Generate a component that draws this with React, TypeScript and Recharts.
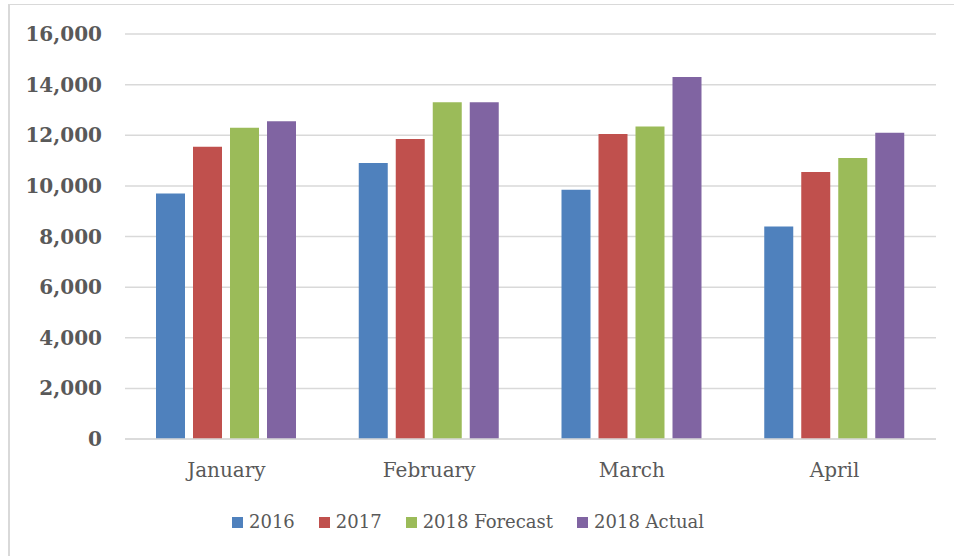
import { BarChart, Bar, XAxis, YAxis, CartesianGrid, Legend } from "recharts";

const months = ["January", "February", "March", "April"];
const y2016 = [9700, 10900, 9850, 8400];
const y2017 = [11550, 11850, 12050, 10550];
const y2018Forecast = [12300, 13300, 12350, 11100];
const y2018Actual = [12550, 13300, 14300, 12100];
const yTicks = [0, 2000, 4000, 6000, 8000, 10000, 12000, 14000, 16000];

const series = [
  { key: "y2016", name: "2016", color: "#4F81BD" },
  { key: "y2017", name: "2017", color: "#C0504D" },
  { key: "f2018", name: "2018 Forecast", color: "#9BBB59" },
  { key: "a2018", name: "2018 Actual", color: "#8064A2" },
];

const data = months.map((month, i) => ({
  month,
  y2016: y2016[i],
  y2017: y2017[i],
  f2018: y2018Forecast[i],
  a2018: y2018Actual[i],
}));

const serif = "'DejaVu Serif', serif";

function LegendRow() {
  return (
    <div
      style={{
        display: "flex",
        justifyContent: "center",
        alignItems: "center",
        paddingTop: 12,
        fontFamily: serif,
        fontSize: 18,
        color: "#595959",
        lineHeight: "26px",
      }}
    >
      {series.map((s) => (
        <div key={s.key} style={{ display: "flex", alignItems: "center", margin: "0 12px" }}>
          <span style={{ width: 11, height: 11, background: s.color, marginRight: 6, display: "inline-block" }} />
          <span>{s.name}</span>
        </div>
      ))}
    </div>
  );
}

export default function App() {
  return (
    <div style={{ position: "absolute", left: 0, top: 0, width: 954, height: 556, overflow: "hidden", background: "#fff" }}>
      <div
        style={{
          position: "absolute",
          left: 8,
          top: 4,
          width: 980,
          height: 600,
          borderTop: "1px solid #d9d9d9",
          borderLeft: "2px solid #d9d9d9",
        }}
      />
      <div style={{ position: "absolute", left: 0, top: 0 }}>
        <BarChart
          width={954}
          height={556}
          data={data}
          margin={{ top: 34, right: 18, left: 0, bottom: 8 }}
          barSize={29}
          barGap={8}
          barCategoryGap={31}
        >
          <CartesianGrid vertical={false} stroke="#d9d9d9" strokeWidth={1.5} />
          <XAxis
            dataKey="month"
            axisLine={{ stroke: "#d9d9d9", strokeWidth: 1.5 }}
            tickLine={false}
            tickSize={0}
            tickMargin={24}
            height={58}
            tick={{ fill: "#595959", fontFamily: serif, fontSize: 20 }}
          />
          <YAxis
            domain={[0, 16000]}
            ticks={yTicks}
            width={125}
            axisLine={false}
            tickLine={false}
            tickSize={0}
            tickMargin={23}
            tickFormatter={(v: number) => v.toLocaleString("en-US")}
            tick={{ fill: "#595959", fontFamily: serif, fontSize: 20, fontWeight: "bold" }}
          />
          <Legend verticalAlign="bottom" height={51} content={() => <LegendRow />} />
          {series.map((s) => (
            <Bar key={s.key} dataKey={s.key} name={s.name} fill={s.color} isAnimationActive={false} />
          ))}
        </BarChart>
      </div>
    </div>
  );
}
